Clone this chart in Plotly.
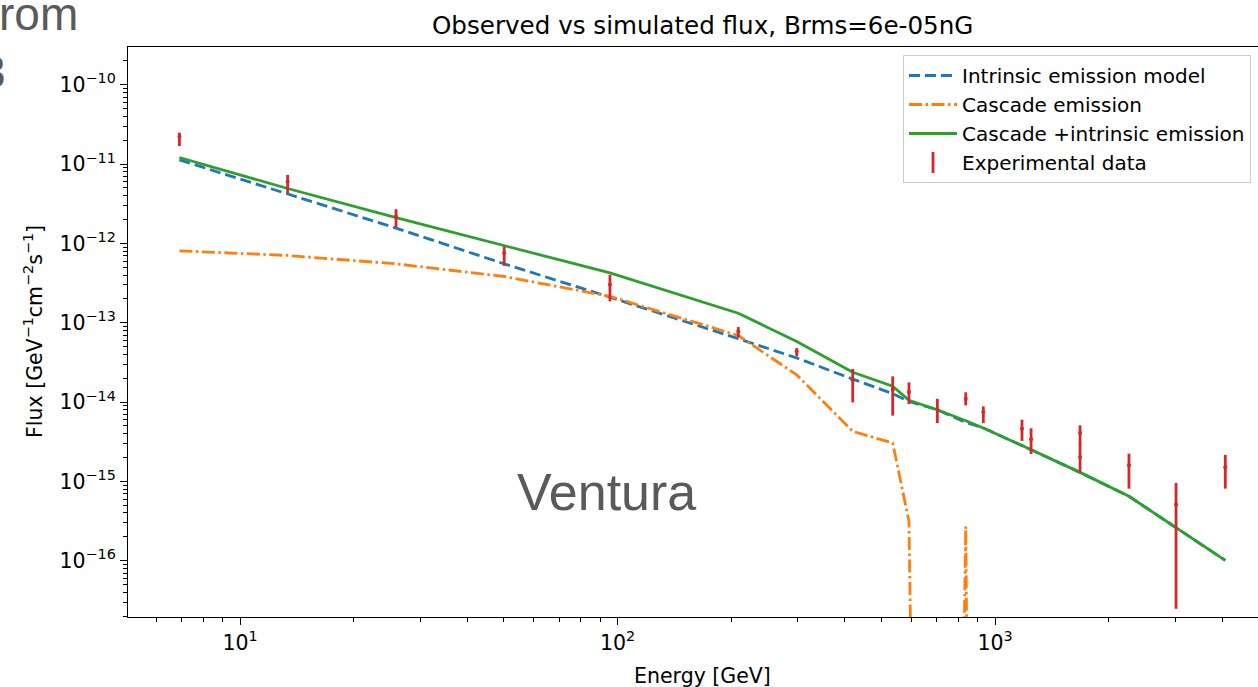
import plotly.graph_objects as go

# ---- measured spectrum -------------------------------------------------
energy = [6.91, 13.37, 25.9, 50.1, 95.5, 208.9, 298.4, 419.9, 535.8, 591.7,
          703.5, 836.5, 931.2, 1179, 1246, 1680, 1680, 2264, 3017, 4074]
flux = [2.22e-11, 6.02e-12, 2.18e-12, 7.55e-13, 3.01e-13, 7.77e-14, 4.35e-14,
        1.88e-14, 1.43e-14, 1.34e-14, 8.02e-15, 1.10e-14, 7.50e-15, 4.62e-15,
        3.41e-15, 4.08e-15, 2.03e-15, 1.60e-15, 5.10e-16, 1.51e-15]
flux_upper = [2.49e-11, 7.31e-12, 2.70e-12, 9.14e-13, 4.02e-13, 8.83e-14, 4.80e-14,
              2.61e-14, 2.11e-14, 1.77e-14, 1.10e-14, 1.33e-14, 8.83e-15, 6.00e-15,
              4.67e-15, 5.09e-15, 3.00e-15, 2.24e-15, 9.57e-16, 2.16e-15]
flux_lower = [1.69e-11, 4.30e-12, 1.60e-12, 5.22e-13, 1.86e-13, 6.61e-14, 3.76e-14,
              9.91e-15, 6.75e-15, 9.46e-15, 5.45e-15, 9.09e-15, 5.45e-15, 3.24e-15,
              2.22e-15, 2.90e-15, 1.30e-15, 8.11e-16, 2.48e-17, 8.11e-16]

# ---- model curves, evaluated at the bin energies ----------------------
model_energy = [6.91, 13.37, 25.9, 50.1, 95.5, 208.9, 298.4, 419.9, 535.8, 591.7,
                703.5, 836.5, 931.2, 1179, 1246, 1680, 2264, 3017, 4074]
intrinsic = [1.13e-11, 4.22e-12, 1.56e-12, 5.53e-13, 2.10e-13, 6.30e-14, 3.60e-14,
             1.95e-14, 1.28e-14, 1.02e-14, 8.00e-15, 5.55e-15, 4.72e-15, 2.83e-15,
             2.51e-15, 1.30e-15, 6.49e-16, 2.64e-16, 1.01e-16]
cascade = [8.07e-13, 7.05e-13, 5.53e-13, 3.83e-13, 2.15e-13, 6.90e-14, 2.20e-14,
           4.28e-15, 3.05e-15, 3.14e-16, 1e-40, 2.70e-16, 1e-40, 1e-40,
           1e-40, 1e-40, 1e-40, 1e-40, 1e-40]
total = [a + b for a, b in zip(intrinsic, cascade)]

x_ticks = [10, 100, 1000]
x_ticktext = ["10<sup>1</sup>", "10<sup>2</sup>", "10<sup>3</sup>"]
y_ticks = [1e-16, 1e-15, 1e-14, 1e-13, 1e-12, 1e-11, 1e-10]
y_ticktext = ["10<sup>\u221216</sup>", "10<sup>\u221215</sup>", "10<sup>\u221214</sup>",
              "10<sup>\u221213</sup>", "10<sup>\u221212</sup>", "10<sup>\u221211</sup>",
              "10<sup>\u221210</sup>"]

BLUE, ORANGE, GREEN, RED = "#1f77b4", "#ff7f0e", "#2ca02c", "#d62728"
FONT = "DejaVu Sans"
FS = 20.5

W, H = 1258, 687
L, R, T, B = 128, 0, 47, 70
PW, PH = W - L - R, H - T - B


def px_x(p):
    return (p - L) / PW


def px_y(p):
    return (H - B - p) / PH


fig = go.Figure()

fig.add_trace(go.Scatter(
    x=model_energy, y=intrinsic, mode="lines", name="Intrinsic emission model",
    line=dict(color=BLUE, width=2.8, dash="11px,5px")))
fig.add_trace(go.Scatter(
    x=model_energy, y=cascade, mode="lines", name="Cascade emission",
    line=dict(color=ORANGE, width=2.8, dash="13px,3.5px,2.5px,3.5px")))
fig.add_trace(go.Scatter(
    x=model_energy, y=total, mode="lines", name="Cascade +intrinsic emission",
    line=dict(color=GREEN, width=2.8)))

# legend entry for the measurements (vertical bar glyph)
fig.add_trace(go.Scatter(
    x=[None], y=[None], mode="markers", name="Experimental data",
    marker=dict(symbol="line-ns", size=15, color=RED, line=dict(color=RED, width=2.8))))

err_plus = [u - f for u, f in zip(flux_upper, flux)]
err_minus = [f - lo for f, lo in zip(flux, flux_lower)]
fig.add_trace(go.Scatter(
    x=energy, y=flux, mode="markers", showlegend=False,
    marker=dict(symbol="circle", size=4, color=RED),
    error_y=dict(type="data", array=err_plus, arrayminus=err_minus, symmetric=False,
                 color=RED, thickness=2.8, width=0)))

x_minor = [m * 10 ** d for d in range(0, 4) for m in range(2, 10)]
y_minor = [m * 10.0 ** d for d in range(-17, -9) for m in range(2, 10)]

axis_common = dict(
    type="log", showgrid=False, zeroline=False, showline=True, linecolor="black",
    linewidth=1.2, ticks="outside", ticklen=7, tickwidth=1.2, tickcolor="black",
    tickfont=dict(family=FONT, size=FS, color="black"), tickmode="array",
)

fig.update_layout(
    width=W, height=H,
    margin=dict(l=L, r=R, t=T, b=B),
    paper_bgcolor="white", plot_bgcolor="white",
    font=dict(family=FONT, color="black"),
    xaxis=dict(axis_common, range=[0.7033, 3.6967], tickvals=x_ticks, ticktext=x_ticktext,
               mirror=True,
               minor=dict(tickmode="array", tickvals=x_minor, ticks="outside", ticklen=4,
                          tickwidth=1, tickcolor="black", showgrid=False)),
    yaxis=dict(axis_common, range=[-16.709, -9.524], tickvals=y_ticks, ticktext=y_ticktext,
               mirror=False,
               minor=dict(tickmode="array", tickvals=y_minor, ticks="outside", ticklen=4,
                          tickwidth=1, tickcolor="black", showgrid=False)),
    legend=dict(x=px_x(903), y=px_y(55), xanchor="left", yanchor="top",
                bgcolor="rgba(255,255,255,0.8)", bordercolor="#cccccc", borderwidth=1,
                font=dict(family=FONT, size=20, color="black"), itemwidth=48),
    showlegend=True,
)

annotations = [
    dict(text="Observed vs simulated flux, Brms=6e-05nG", x=px_x(702), y=px_y(25),
         font=dict(family=FONT, size=24.6, color="black")),
    dict(text="Energy [GeV]", x=px_x(702), y=px_y(676),
         font=dict(family=FONT, size=FS, color="black")),
    dict(text="Flux [GeV<sup>\u22121</sup>cm<sup>\u22122</sup>s<sup>\u22121</sup>]",
         x=px_x(33), y=px_y(332), textangle=-90,
         font=dict(family=FONT, size=FS, color="black")),
    dict(text="Ventura", x=px_x(606), y=px_y(492),
         font=dict(family="Liberation Sans", size=52, color="#5a5a5a")),
    dict(text="rom", x=px_x(-3), y=px_y(14), xanchor="left",
         font=dict(family="Liberation Sans", size=46, color="#5a5a5a")),
    dict(text="3", x=px_x(8), y=px_y(72), xanchor="right",
         font=dict(family="Liberation Sans", size=46, color="#5a5a5a")),
]
for a in annotations:
    a.setdefault("xanchor", "center")
    a.update(xref="paper", yref="paper", yanchor="middle", showarrow=False)
fig.update_layout(annotations=annotations)

fig.write_html("out.html")
